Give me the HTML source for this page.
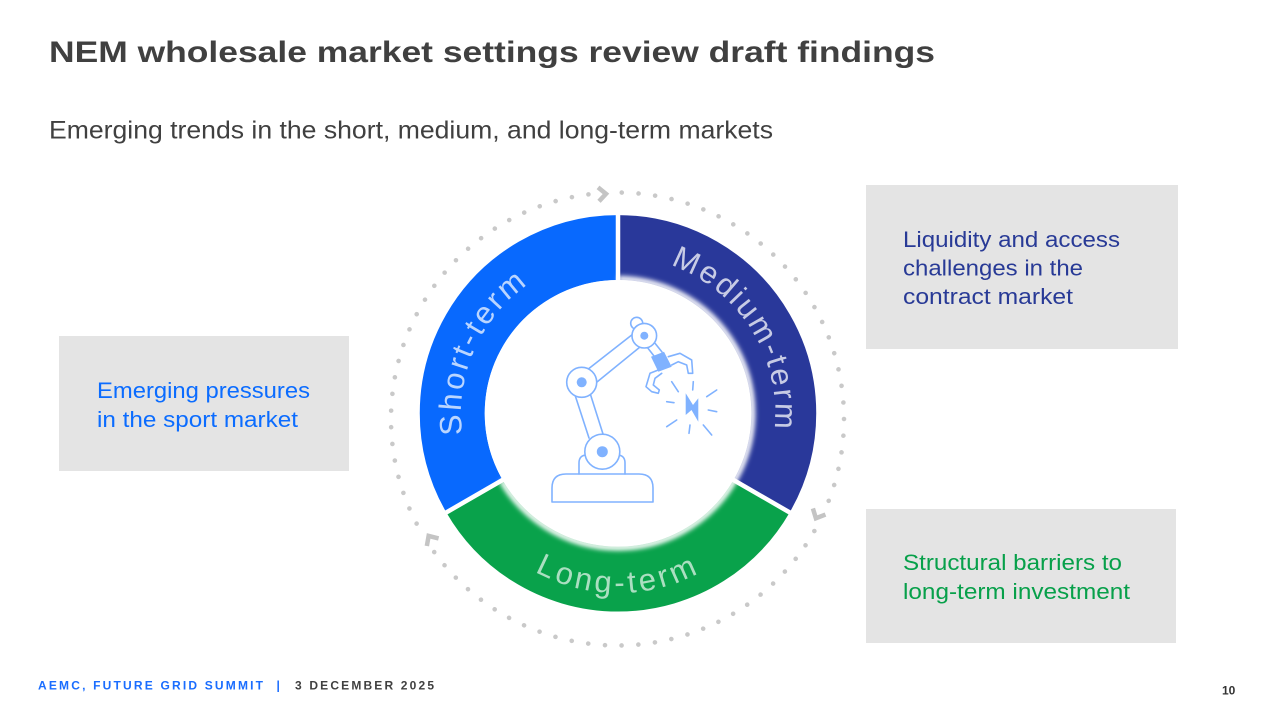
<!DOCTYPE html>
<html>
<head>
<meta charset="utf-8">
<style>
  html,body{margin:0;padding:0;background:#fff;}
  svg{display:block;}
  text{font-family:"Liberation Sans", Arial, sans-serif;}
</style>
</head>
<body>
<svg width="1280" height="720" viewBox="0 0 1280 720" xmlns="http://www.w3.org/2000/svg">
  <defs>
    <filter id="blur" x="-20%" y="-20%" width="140%" height="140%">
      <feGaussianBlur stdDeviation="2.5"/>
    </filter>
    <path id="ps" d="M 530.2 543.5 A 157 157 0 0 1 656.0 261.0"/>
    <path id="pm" d="M 559.2 267.7 A 157 157 0 0 1 723.1 530.0"/>
    <path id="pl" d="M 446.6 443.5 A 173 173 0 0 0 789.4 443.5"/>
  </defs>

  <rect width="1280" height="720" fill="#ffffff"/>

  <!-- Title -->
  <text x="49" y="62" font-size="30" font-weight="bold" fill="#404040" textLength="886" lengthAdjust="spacingAndGlyphs">NEM wholesale market settings review draft findings</text>
  <text x="49" y="138.5" font-size="25" fill="#404040" textLength="724" lengthAdjust="spacingAndGlyphs">Emerging trends in the short, medium, and long-term markets</text>

  <!-- Boxes -->
  <rect x="59" y="336" width="290" height="135" fill="#e4e4e4"/>
  <text x="97" y="398" font-size="22" fill="#0b6cff" textLength="213" lengthAdjust="spacingAndGlyphs">Emerging pressures</text>
  <text x="97" y="427" font-size="22" fill="#0b6cff" textLength="201" lengthAdjust="spacingAndGlyphs">in the sport market</text>

  <rect x="866" y="185" width="312" height="164" fill="#e4e4e4"/>
  <text x="903" y="247" font-size="22" fill="#283a96" textLength="217" lengthAdjust="spacingAndGlyphs">Liquidity and access</text>
  <text x="903" y="275.5" font-size="22" fill="#283a96" textLength="180" lengthAdjust="spacingAndGlyphs">challenges in the</text>
  <text x="903" y="304" font-size="22" fill="#283a96" textLength="170" lengthAdjust="spacingAndGlyphs">contract market</text>

  <rect x="866" y="509" width="310" height="134" fill="#e4e4e4"/>
  <text x="903" y="570" font-size="22" fill="#07a04a" textLength="219" lengthAdjust="spacingAndGlyphs">Structural barriers to</text>
  <text x="903" y="599" font-size="22" fill="#07a04a" textLength="227" lengthAdjust="spacingAndGlyphs">long-term investment</text>

  <!-- Dotted circle -->
  <circle cx="617.5" cy="419" r="226.5" fill="none" stroke="#c9c9c9" stroke-width="4.6" stroke-linecap="round" stroke-dasharray="0.01 16.732"/>
  <!-- gaps for arrows -->
  <circle cx="604" cy="194" r="11" fill="#fff"/>
  <circle cx="816" cy="516" r="11" fill="#fff"/>
  <circle cx="430" cy="538" r="11" fill="#fff"/>
  <!-- chevrons -->
  <g fill="none" stroke="#c4c4c4" stroke-width="4.5" stroke-linejoin="miter">
    <path d="M -5 -7 L 2.5 0 L -5 7" transform="translate(603.5 194) rotate(-4)"/>
    <path d="M -5 -7 L 2.5 0 L -5 7" transform="translate(817 516) rotate(116)"/>
    <path d="M -5 -7 L 2.5 0 L -5 7" transform="translate(430 538) rotate(237)"/>
  </g>

  <!-- Ring segments -->
  <g fill="none" stroke-width="65">
    <path d="M 474.5 496.2 A 165.7 165.7 0 0 1 618 247.6" stroke="#0869fe"/>
    <path d="M 618 247.6 A 165.7 165.7 0 0 1 761.5 496.2" stroke="#29389a"/>
    <path d="M 761.5 496.2 A 165.7 165.7 0 0 1 474.5 496.2" stroke="#09a24b"/>
  </g>
  <!-- inner white -->
  <circle cx="618" cy="413.3" r="133.3" fill="#ffffff"/>
  <path d="M 618 279 A 134.3 134.3 0 1 1 501.7 480.5" fill="none" stroke="#ffffff" stroke-width="6" filter="url(#blur)"/>
  <circle cx="618" cy="413.3" r="131.5" fill="#ffffff"/>
  <!-- gap lines -->
  <g stroke="#ffffff" stroke-width="4.5">
    <line x1="618" y1="283" x2="618" y2="210"/>
    <line x1="730" y1="478" x2="795" y2="515.5"/>
    <line x1="506" y1="478" x2="441" y2="515.5"/>
  </g>

  <!-- Curved labels -->
  <text font-size="31" fill="#ffffff" fill-opacity="0.72" letter-spacing="2.8" text-anchor="middle">
    <textPath href="#ps" startOffset="50%">Short-term</textPath>
  </text>
  <text font-size="31" fill="#ffffff" fill-opacity="0.74" letter-spacing="2.6" text-anchor="middle">
    <textPath href="#pm" startOffset="50%">Medium-term</textPath>
  </text>
  <text font-size="31" fill="#ffffff" fill-opacity="0.66" letter-spacing="3.6" text-anchor="middle">
    <textPath href="#pl" startOffset="50%">Long-term</textPath>
  </text>

  <!-- Robot arm icon -->
  <g stroke="#80b2ff" stroke-width="1.6" fill="none" stroke-linejoin="round" stroke-linecap="round">
    <path d="M 552 502 L 552 488 Q 552 474 566 474 L 639 474 Q 653 474 653 488 L 653 502 Z"/>
    <path d="M 579 474 L 579 463 Q 579 455 587 455 L 617 455 Q 625 455 625 463 L 625 474"/>
    <line x1="575" y1="395" x2="589" y2="438"/>
    <line x1="590" y1="393" x2="603" y2="434"/>
    <line x1="587" y1="370" x2="633" y2="334"/>
    <line x1="597" y1="382" x2="640" y2="347"/>
    <line x1="647" y1="347" x2="654" y2="356"/>
    <line x1="654" y1="342" x2="662" y2="352"/>
    <circle cx="636.7" cy="323.3" r="6" fill="#fff"/>
    <circle cx="602.3" cy="451.7" r="17.5" fill="#fff"/>
    <circle cx="581.7" cy="382.3" r="15" fill="#fff"/>
    <circle cx="644.3" cy="335.7" r="12.3" fill="#fff"/>
    <path d="M 668.3 356.7 L 680 353.3 L 691.7 360 L 692.7 373.3 L 688.3 373.3 L 686.7 365 L 678.3 361.7 L 671.7 365"/>
    <path d="M 658.3 370 L 650 373.3 L 646 386.7 L 651.7 391.7 L 658.3 393.3 L 659.3 390 L 653.3 385 L 655 378.3 L 661.7 373.3"/>
    <line x1="671.7" y1="381.7" x2="678.3" y2="391.7"/>
    <line x1="693.3" y1="381.7" x2="692.7" y2="390"/>
    <line x1="706.7" y1="396.7" x2="716.7" y2="390"/>
    <line x1="666.7" y1="401.7" x2="674" y2="402.7"/>
    <line x1="708.3" y1="410" x2="716.7" y2="411.7"/>
    <line x1="666.7" y1="426.7" x2="676.7" y2="420"/>
    <line x1="690" y1="425" x2="689" y2="433.3"/>
    <line x1="703.3" y1="425" x2="711.7" y2="435"/>
  </g>
  <g fill="#80b2ff">
    <circle cx="602.3" cy="451.7" r="5.5"/>
    <circle cx="581.7" cy="382.3" r="5"/>
    <circle cx="644.3" cy="335.7" r="4"/>
    <path d="M 651 356.7 L 664 351.7 L 671.7 366.7 L 658.3 371.7 Z"/>
    <path d="M 685.7 393.3 L 693 405 L 698.3 398.3 L 698.3 421.7 L 691.5 410 L 685.7 415 Z"/>
  </g>

  <!-- Footer -->
  <text x="38" y="689.3" font-size="12" font-weight="bold" fill="#1a6dff" textLength="225" lengthAdjust="spacing">AEMC, FUTURE GRID SUMMIT</text>
  <text x="276.5" y="689.3" font-size="12" font-weight="bold" fill="#1a6dff">|</text>
  <text x="295" y="689.3" font-size="12" font-weight="bold" fill="#404040" textLength="139" lengthAdjust="spacing">3 DECEMBER 2025</text>
  <text x="1222" y="694.5" font-size="12" font-weight="bold" fill="#333333">10</text>
</svg>
</body>
</html>
